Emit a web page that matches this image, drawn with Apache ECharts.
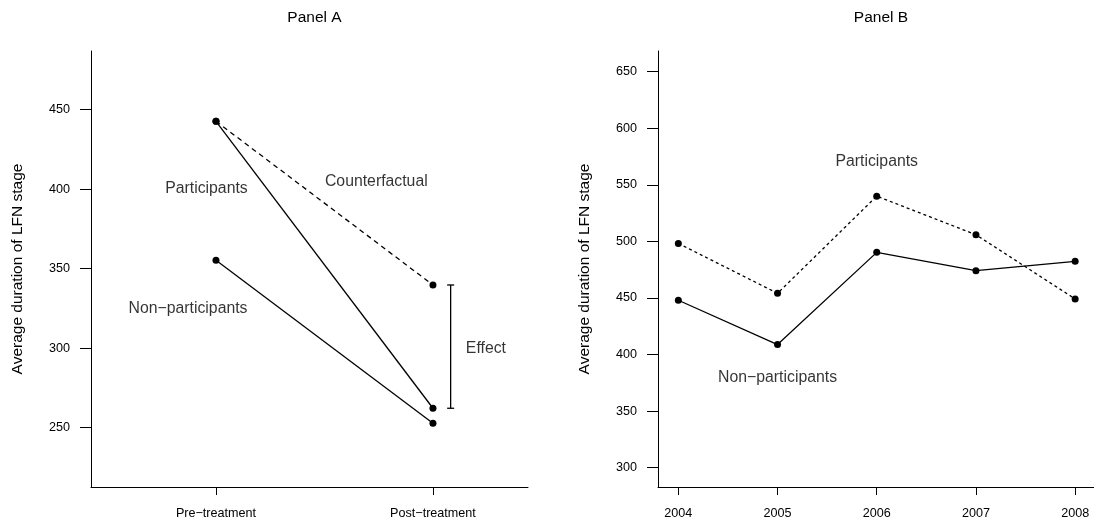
<!DOCTYPE html>
<html>
<head>
<meta charset="utf-8">
<script src="https://cdn.jsdelivr.net/npm/echarts@6/dist/echarts.min.js"></script>
<style>
html,body{margin:0;padding:0;background:#fff;}
#chart{width:1094px;height:529px;}
</style>
</head>
<body>
<div id="chart"></div>
<script>
// ---------- data ----------
const periodsA = ['Pre\u2212treatment', 'Post\u2212treatment'];
const participantsA = [442.6, 262.2];
const counterfactualA = [442.6, 339.7];
const nonParticipantsA = [355.3, 252.8];
const yTicksA = [250, 300, 350, 400, 450];

const years = [2004, 2005, 2006, 2007, 2008];
const participantsB = [498.2, 454.1, 540.0, 505.9, 449.1];
const nonParticipantsB = [448.0, 408.8, 490.3, 474.1, 482.4];
const yTicksB = [300, 350, 400, 450, 500, 550, 600, 650];

const yTitle = 'Average duration of LFN stage';

// ---------- layout (annotation placement, not data) ----------
const annotA = [
  { text: 'Participants', x: 0.956, y: 400 },
  { text: 'Counterfactual', x: 1.739, y: 404.6 },
  { text: 'Non\u2212participants', x: 0.871, y: 324.6 },
  { text: 'Effect', x: 2.244, y: 299.5 }
];
const annotB = [
  { text: 'Participants', x: 2006, y: 570.5 },
  { text: 'Non\u2212participants', x: 2005, y: 379.9 }
];
const effectX = 2.0815;

const FONT = 'Liberation Sans, Arial, Helvetica, sans-serif';
const lineBase = { color: '#000', width: 1.3 };

const posA = periodsA.map((_, i) => i + 1);
const toA = arr => arr.map((v, i) => [posA[i], v]);
const toB = arr => arr.map((v, i) => [years[i], v]);

function yAxisCfg(gridIndex, min, max, ticks) {
  return {
    type: 'value', gridIndex, min, max,
    name: yTitle, nameLocation: 'middle', nameRotate: 90, nameGap: 65,
    nameTextStyle: { fontFamily: FONT, fontSize: 15.5, color: '#000' },
    axisLine: { show: true, onZero: false, lineStyle: { color: '#000', width: 1 } },
    axisTick: { show: true, length: 11, customValues: ticks, lineStyle: { color: '#000', width: 1 } },
    axisLabel: { customValues: ticks, margin: 21, fontFamily: FONT, fontSize: 12.6, color: '#000' },
    splitLine: { show: false }
  };
}
function xAxisCfg(gridIndex, min, max, ticks, fmt) {
  return {
    type: 'value', gridIndex, min, max,
    axisLine: { show: true, onZero: false, lineStyle: { color: '#000', width: 1 } },
    axisTick: { show: true, length: 8, customValues: ticks, lineStyle: { color: '#000', width: 1 } },
    axisLabel: { customValues: ticks, margin: 20, formatter: fmt, fontFamily: FONT, fontSize: 12.6, color: '#000' },
    splitLine: { show: false }
  };
}
function textSeries(xi, yi, items) {
  return {
    type: 'scatter', xAxisIndex: xi, yAxisIndex: yi, symbolSize: 0, silent: true,
    data: items.map(a => ({ value: [a.x, a.y], label: { formatter: a.text } })),
    label: { show: true, position: 'inside', fontFamily: FONT, fontSize: 15.8, color: '#000', textBorderWidth: 0 },
    z: 5
  };
}
function lineSeries(xi, yi, data, dash) {
  return {
    type: 'line', xAxisIndex: xi, yAxisIndex: yi, data,
    symbol: 'circle', symbolSize: 7, itemStyle: { color: '#000' },
    lineStyle: Object.assign({}, lineBase, { type: dash || 'solid' }),
    silent: true, animation: false
  };
}

const option = {
  animation: false,
  backgroundColor: '#fff',
  title: [
    { text: 'Panel A', left: 309.5, top: 5, textAlign: 'center',
      textStyle: { fontFamily: FONT, fontSize: 15.5, fontWeight: 'normal', color: '#000' } },
    { text: 'Panel B', left: 876, top: 5, textAlign: 'center',
      textStyle: { fontFamily: FONT, fontSize: 15.5, fontWeight: 'normal', color: '#000' } }
  ],
  grid: [
    { left: 91, right: 566, top: 51, bottom: 42, outerBoundsMode: 'none', containLabel: false },
    { left: 658, right: 0, top: 51, bottom: 42, outerBoundsMode: 'none', containLabel: false }
  ],
  xAxis: [
    xAxisCfg(0, 0.424, 2.438, posA, v => periodsA[Math.round(v) - 1] || ''),
    xAxisCfg(1, 2003.795, 2008.19, years, v => String(v))
  ],
  yAxis: [
    yAxisCfg(0, 212.7, 486.8, yTicksA),
    yAxisCfg(1, 282.9, 668.3, yTicksB)
  ],
  series: [
    lineSeries(0, 0, toA(participantsA)),
    lineSeries(0, 0, toA(counterfactualA), [5, 4]),
    lineSeries(0, 0, toA(nonParticipantsA)),
    {
      type: 'custom', xAxisIndex: 0, yAxisIndex: 0, silent: true,
      data: [[effectX, counterfactualA[1], participantsA[1]]],
      renderItem: function (params, api) {
        const top = api.coord([api.value(0), api.value(1)]);
        const bot = api.coord([api.value(0), api.value(2)]);
        const c = 3.5;
        const st = { stroke: '#000', lineWidth: 1.3 };
        return {
          type: 'group',
          children: [
            { type: 'line', shape: { x1: top[0], y1: top[1], x2: bot[0], y2: bot[1] }, style: st },
            { type: 'line', shape: { x1: top[0] - c, y1: top[1], x2: top[0] + c, y2: top[1] }, style: st },
            { type: 'line', shape: { x1: bot[0] - c, y1: bot[1], x2: bot[0] + c, y2: bot[1] }, style: st }
          ]
        };
      }
    },
    textSeries(0, 0, annotA),
    lineSeries(1, 1, toB(participantsB), [3, 3]),
    lineSeries(1, 1, toB(nonParticipantsB)),
    textSeries(1, 1, annotB)
  ]
};

const chart = echarts.init(document.getElementById('chart'), null, { renderer: 'canvas' });
chart.setOption(option);
</script>
</body>
</html>
